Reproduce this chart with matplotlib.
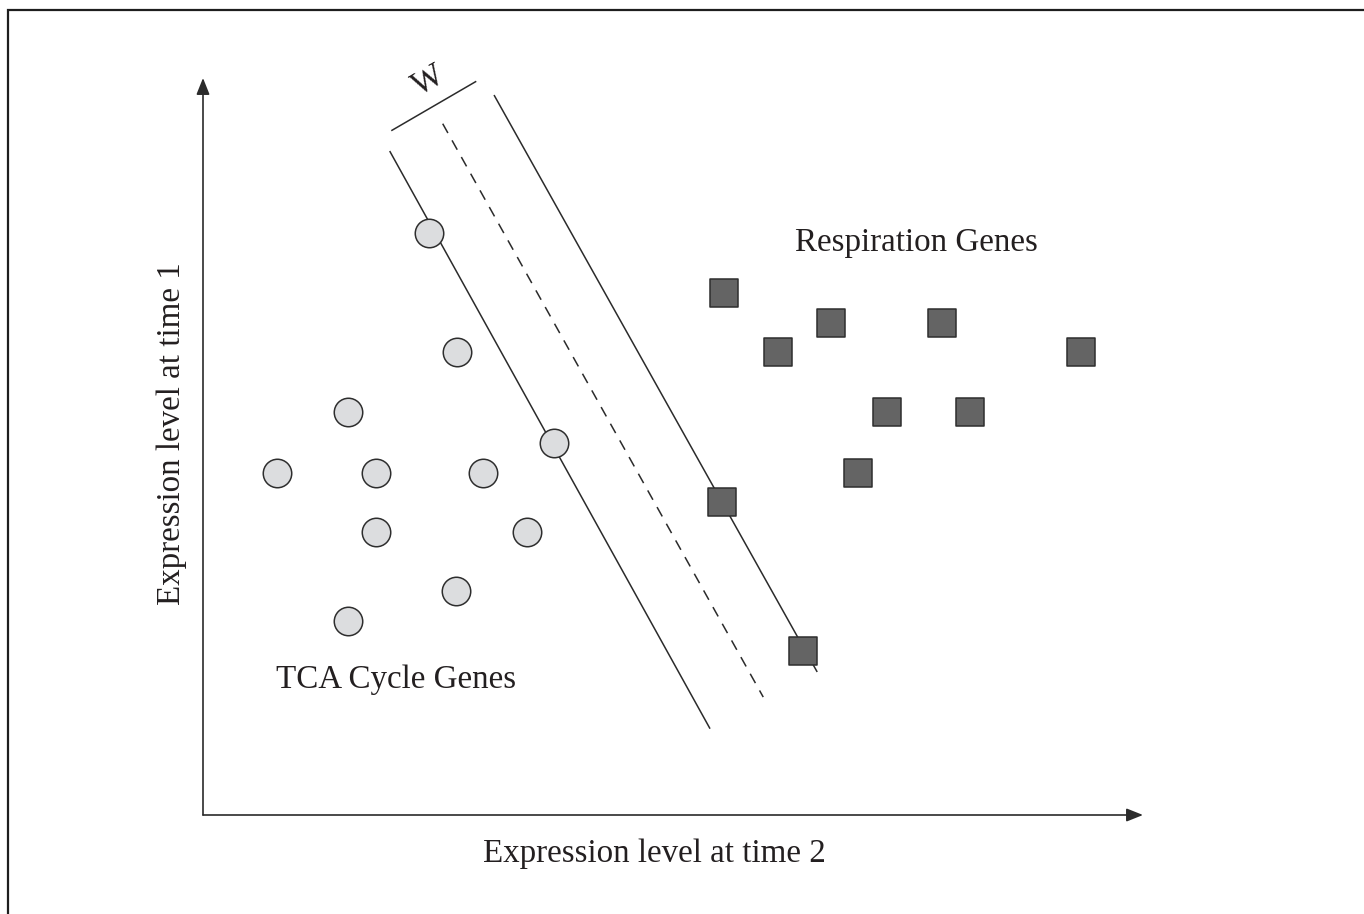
import matplotlib
matplotlib.use("Agg")
import matplotlib.pyplot as plt
from matplotlib.patches import Rectangle

# Expression levels (arbitrary units, axes run 0-100)
tca_x = [24.0, 27.0, 15.4, 37.3, 7.9, 18.4, 29.8, 18.4, 34.5, 26.9, 15.4]
tca_y = [79.0, 62.8, 54.7, 50.5, 46.4, 46.4, 46.4, 38.4, 38.4, 30.4, 26.3]

resp_x = [55.4, 61.2, 66.8, 78.6, 93.4, 72.8, 81.6, 69.7, 55.2, 63.8]
resp_y = [70.8, 62.8, 66.8, 66.8, 62.8, 54.7, 54.7, 46.4, 42.5, 22.3]

# margin lines and separating hyperplane (start / end points)
margin_left_x = [19.9, 53.9]
margin_left_y = [90.0, 11.8]
hyperplane_x = [25.5, 59.6]
hyperplane_y = [93.8, 16.0]
margin_right_x = [31.0, 65.3]
margin_right_y = [97.6, 19.5]
width_bar_x = [20.1, 29.0]
width_bar_y = [92.9, 99.5]

plt.rcParams["font.family"] = ["Liberation Serif", "DejaVu Serif"]
txt_color = "#231f20"
line_color = "#2b2b2b"
fsize = 23.8

fig = plt.figure(figsize=(13.64, 9.14), dpi=100)
ax = fig.add_axes([203 / 1364, 99 / 914, 940 / 1364, 737 / 914])
ax.set_xlim(0, 100)
ax.set_ylim(0, 100)
ax.axis("off")

# outer frame (runs off the right and bottom edges)
fig.patches.append(Rectangle((8 / 1364, -0.1), 1.2, (914 - 10) / 914 + 0.1,
                             transform=fig.transFigure, fill=False,
                             edgecolor="#1e1e1e", linewidth=1.6))

# axis arrows
arrow = dict(arrowstyle="-|>,head_length=1.0,head_width=0.4", color=line_color,
             linewidth=1.2, shrinkA=0, shrinkB=0, mutation_scale=10)
ax.annotate("", xy=(100, 0), xytext=(0, 0), arrowprops=arrow, annotation_clip=False)
ax.annotate("", xy=(0, 100), xytext=(0, 0), arrowprops=arrow, annotation_clip=False)

# margins
ax.plot(margin_left_x, margin_left_y, color=line_color, lw=1.1, clip_on=False, zorder=2)
ax.plot(margin_right_x, margin_right_y, color=line_color, lw=1.1, clip_on=False, zorder=2)
ax.plot(hyperplane_x, hyperplane_y, color=line_color, lw=1.1, ls=(0, (7, 5.5)),
        clip_on=False, zorder=2)
ax.plot(width_bar_x, width_bar_y, color=line_color, lw=1.1, clip_on=False, zorder=2)
ax.text(23.9, 99.6, "W", rotation=30, ha="center", va="center", fontsize=fsize,
        color=txt_color, clip_on=False)

# gene groups
ax.scatter(tca_x, tca_y, s=20.5 ** 2, marker="o", facecolor="#dcdddf",
           edgecolor="#2e2e2e", linewidth=1.1, zorder=3, clip_on=False)
ax.scatter(resp_x, resp_y, s=20.5 ** 2, marker="s", facecolor="#646464",
           edgecolor="#2e2e2e", linewidth=1.1, zorder=3, clip_on=False)

ax.text(75.9, 77.6, "Respiration Genes", ha="center", va="center", fontsize=fsize,
        color=txt_color)
ax.text(20.5, 18.3, "TCA Cycle Genes", ha="center", va="center", fontsize=fsize,
        color=txt_color)

# axis titles
ax.text(48.0, -5.2, "Expression level at time 2", ha="center", va="center",
        fontsize=fsize, color=txt_color, clip_on=False)
ax.text(-3.3, 51.8, "Expression level at time 1", ha="center", va="center",
        rotation=90, fontsize=fsize, color=txt_color, clip_on=False)

fig.savefig("out.png", dpi=100)
